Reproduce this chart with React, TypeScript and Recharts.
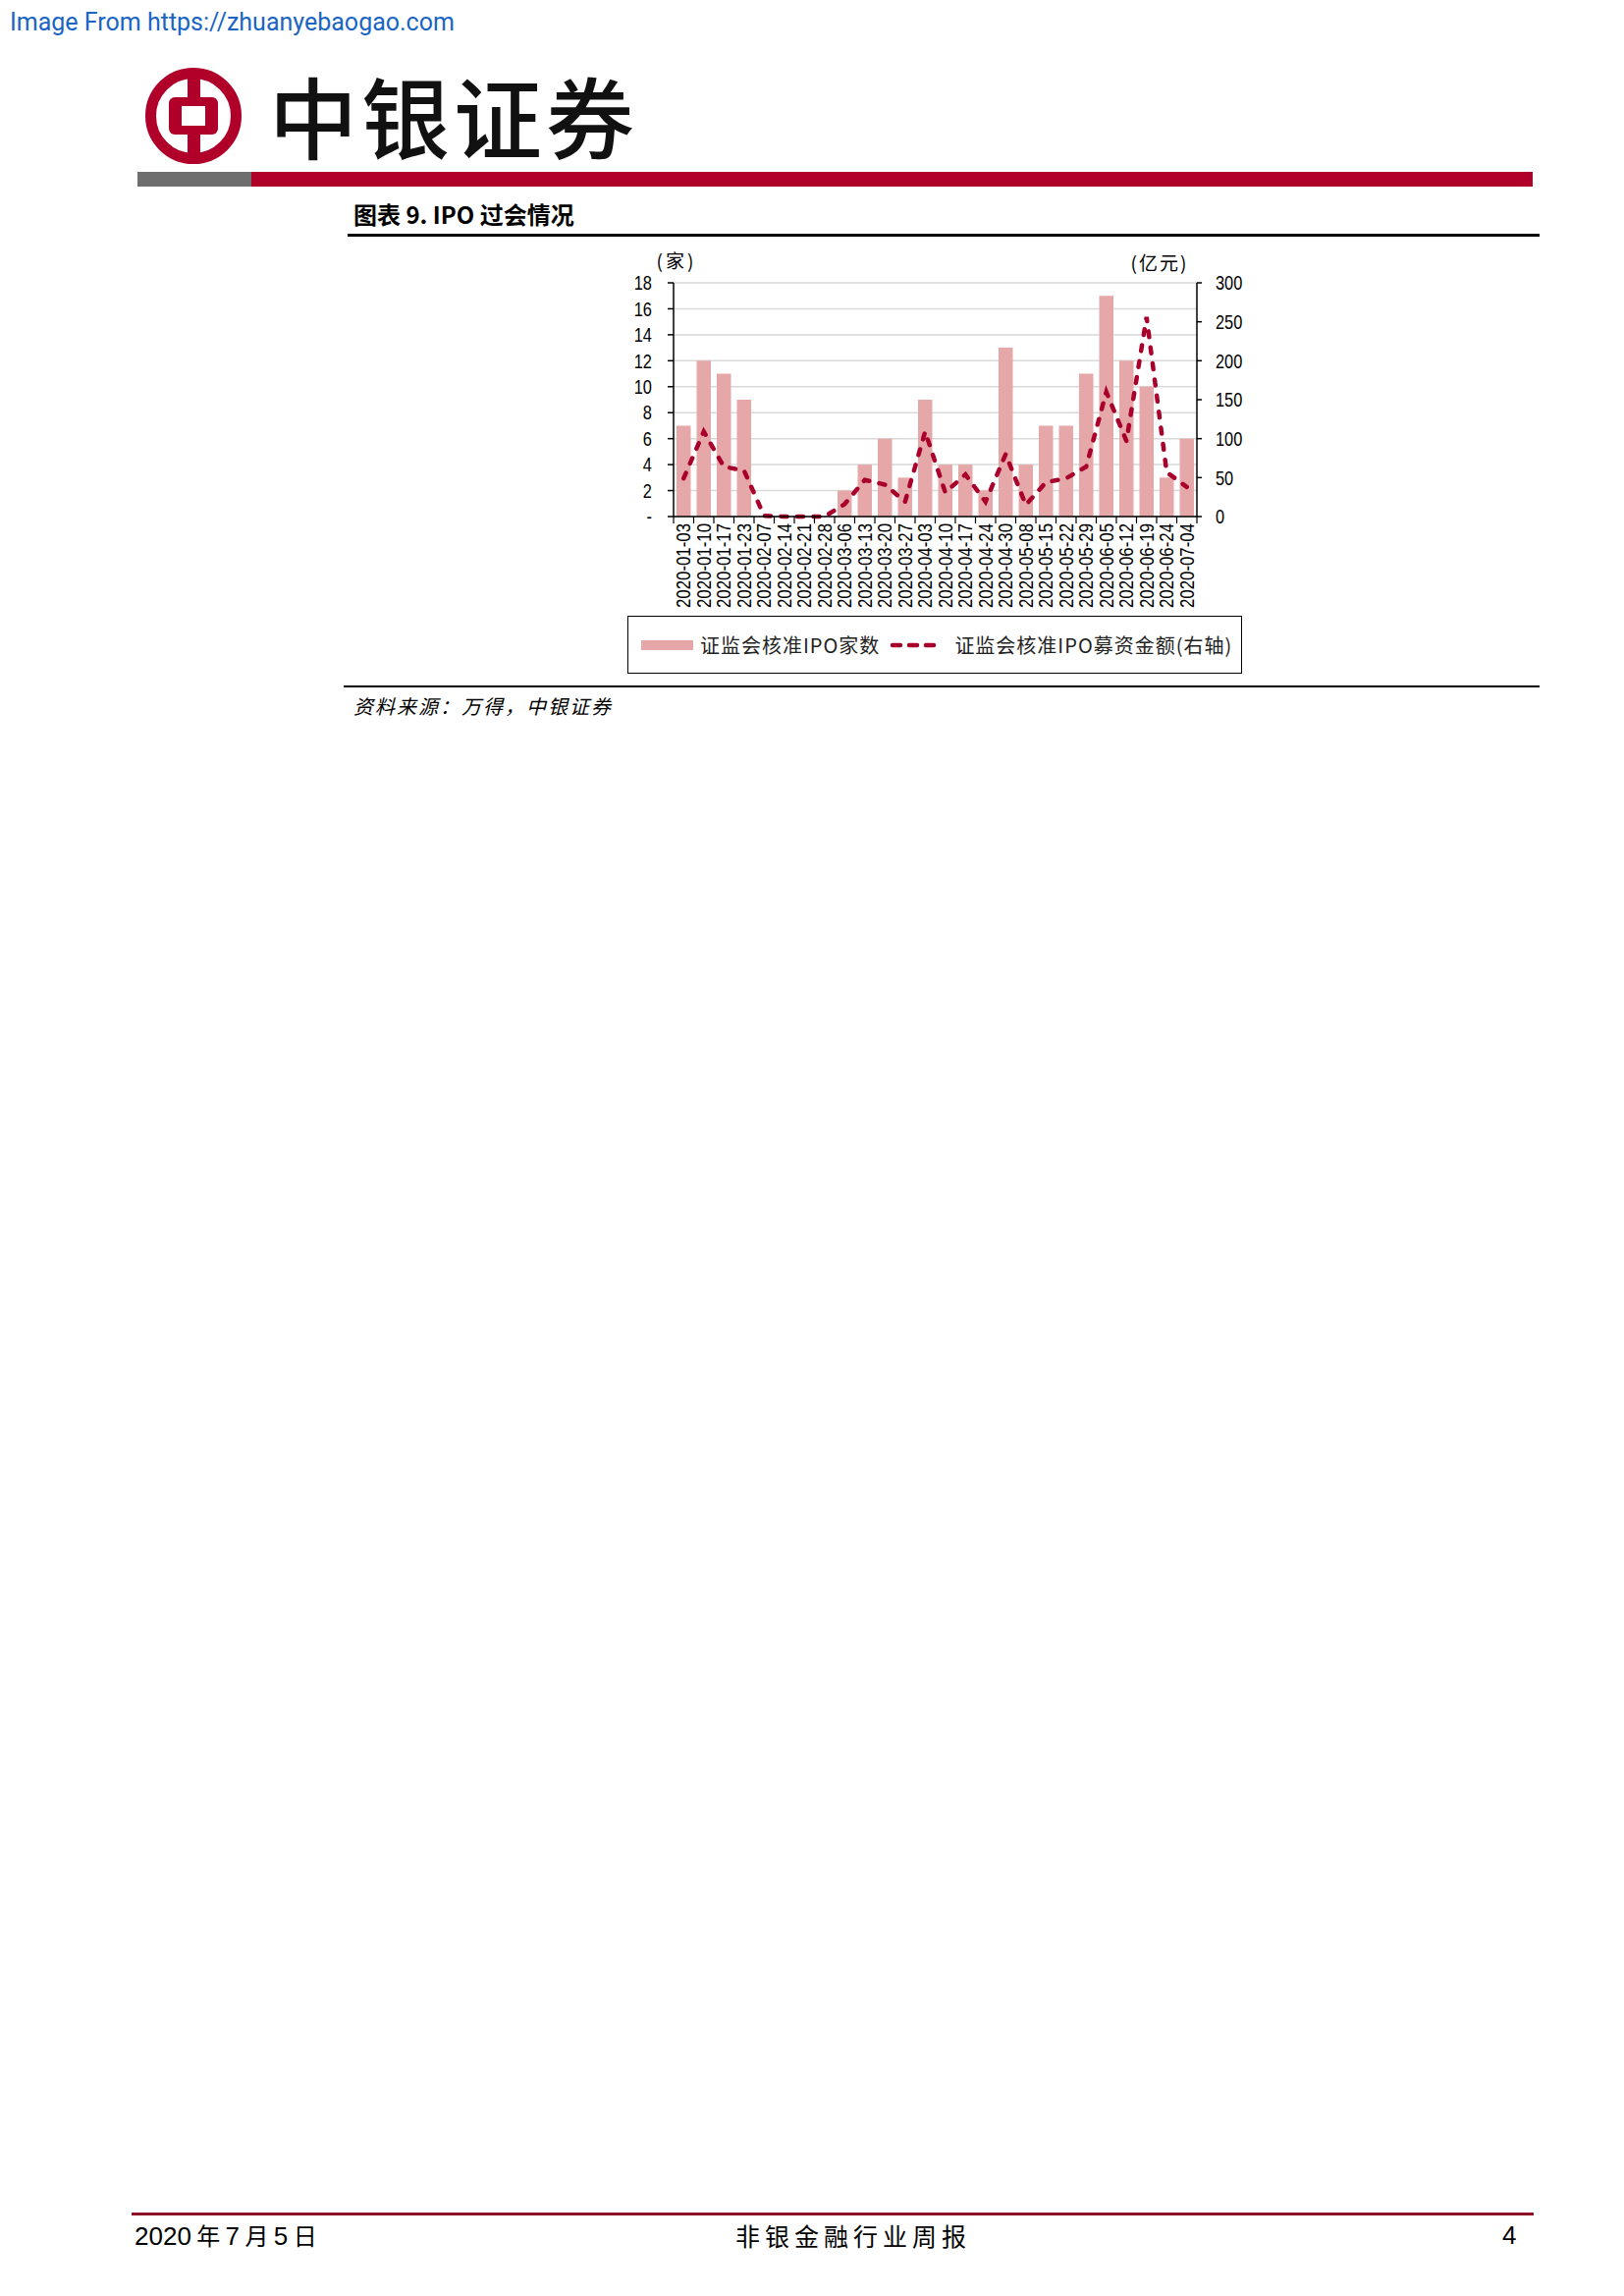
import {
  ComposedChart,
  Bar,
  Line,
  XAxis,
  YAxis,
  CartesianGrid,
  Legend,
} from 'recharts';

const categories = [
  '2020-01-03', '2020-01-10', '2020-01-17', '2020-01-23', '2020-02-07', '2020-02-14',
  '2020-02-21', '2020-02-28', '2020-03-06', '2020-03-13', '2020-03-20', '2020-03-27',
  '2020-04-03', '2020-04-10', '2020-04-17', '2020-04-24', '2020-04-30', '2020-05-08',
  '2020-05-15', '2020-05-22', '2020-05-29', '2020-06-05', '2020-06-12', '2020-06-19',
  '2020-06-24', '2020-07-04',
];
// 证监会核准IPO家数 (左轴，家)
const ipoCounts = [7, 12, 11, 9, 0, 0, 0, 0, 2, 4, 6, 3, 9, 4, 4, 2, 13, 4, 7, 7, 11, 17, 12, 10, 3, 6];
// 证监会核准IPO募资金额 (右轴，亿元)
const ipoAmounts = [49, 109, 64, 59, 1, 0, 0, 0, 16, 47, 41, 19, 109, 31, 54, 19, 80, 15, 44, 49, 64, 160, 97, 256, 57, 38];

const leftTicks = [0, 2, 4, 6, 8, 10, 12, 14, 16, 18];
const rightTicks = [0, 50, 100, 150, 200, 250, 300];

const countName = '证监会核准IPO家数';
const amountName = '证监会核准IPO募资金额(右轴)';

const SANS = '"Liberation Sans", Arial, sans-serif';
const CJK = '"Noto Sans CJK SC", "Noto Sans CJK TC", sans-serif';

const BAR_COLOR = '#e6a7a8';
const LINE_COLOR = '#a8002b';
const BRAND_RED = '#b0002a';

const chartData = categories.map((date, i) => ({
  date,
  count: ipoCounts[i],
  amount: ipoAmounts[i],
}));

const CHART_W = 700;
const PLOT_W = CHART_W - 86 - 81;
const HALF_BAND = PLOT_W / categories.length / 2;

// narrow look: squeeze the glyphs horizontally around the anchor
const narrow = (x: number) => `translate(${x} 0) scale(0.82 1) translate(${-x} 0)`;

const DateTick = ({ x, y, payload, index }: any) => (
  <g>
    <line x1={x + HALF_BAND} x2={x + HALF_BAND} y1={y - 7} y2={y} stroke="#000" strokeWidth={1.2} />
    {index === 0 && (
      <line x1={x - HALF_BAND} x2={x - HALF_BAND} y1={y - 7} y2={y} stroke="#000" strokeWidth={1.2} />
    )}
    <text
      x={x}
      y={y}
      transform={`rotate(-90 ${x} ${y})`}
      textAnchor="end"
      dy="0.36em"
      fontSize={20}
      fontFamily={SANS}
      fill="#000"
      textLength={86}
      lengthAdjust="spacingAndGlyphs"
    >
      {payload.value}
    </text>
  </g>
);

const ValueTick = ({ x, y, payload, textAnchor, zeroDash }: any) => (
  <text
    x={x}
    y={y}
    dy="0.36em"
    textAnchor={textAnchor}
    transform={narrow(x)}
    fontSize={20}
    fontFamily={SANS}
    fill="#000"
  >
    {zeroDash && payload.value === 0 ? '-' : payload.value}
  </text>
);

const LegendBox = () => (
  <div
    style={{
      boxSizing: 'border-box',
      width: 626,
      height: 59,
      border: '1.5px solid #000',
      display: 'flex',
      alignItems: 'center',
      paddingLeft: 13,
      fontFamily: CJK,
      fontSize: 20,
      color: '#222',
      whiteSpace: 'nowrap',
    }}
  >
    <span style={{ display: 'inline-block', width: 53, height: 10, background: BAR_COLOR, marginRight: 7 }} />
    <span style={{ letterSpacing: 1 }}>{countName}</span>
    <svg width={56} height={12} style={{ marginLeft: 10, marginRight: 10 }}>
      <line x1={3} x2={54} y1={6} y2={6} stroke={LINE_COLOR} strokeWidth={4.5} strokeDasharray="8 9" strokeLinecap="round" />
    </svg>
    <span style={{ letterSpacing: 1 }}>{amountName}</span>
  </div>
);

const Logo = () => (
  <svg width={110} height={110} viewBox="0 0 110 110" style={{ position: 'absolute', left: 142, top: 63 }}>
    <circle cx={55} cy={55} r={43.5} fill="none" stroke={BRAND_RED} strokeWidth={11} />
    <rect x={49} y={10} width={13} height={90} fill={BRAND_RED} />
    <rect x={30} y={36} width={50} height={38} rx={6} fill={BRAND_RED} />
    <rect x={43} y={45} width={24} height={20} fill="#fff" />
  </svg>
);

export default function App() {
  return (
    <div style={{ position: 'absolute', left: 0, top: 0, width: 1654, height: 2338, background: '#fff', fontFamily: CJK }}>
      <div style={{ position: 'absolute', left: 10, top: 8, fontFamily: 'Roboto, "Noto Sans", sans-serif', fontSize: 25, color: '#1a64c4' }}>
        Image From https://zhuanyebaogao.com
      </div>

      <Logo />
      <div style={{ position: 'absolute', left: 274, top: 56, fontSize: 90, fontWeight: 500, color: '#111', letterSpacing: 4, lineHeight: '120px' }}>
        中银证券
      </div>
      <div style={{ position: 'absolute', left: 140, top: 175, width: 116, height: 15, background: '#6e6e6e' }} />
      <div style={{ position: 'absolute', left: 256, top: 175, width: 1305, height: 15, background: BRAND_RED }} />

      <div style={{ position: 'absolute', left: 360, top: 203, fontSize: 24, fontWeight: 700, color: '#000', lineHeight: '30px' }}>
        图表 9. IPO 过会情况
      </div>
      <div style={{ position: 'absolute', left: 354, top: 238, width: 1214, height: 2.5, background: '#000' }} />

      <div style={{ position: 'absolute', left: 600, top: 250 }}>
        <ComposedChart
          width={CHART_W}
          height={440}
          data={chartData}
          margin={{ top: 38, right: 0, bottom: 64, left: 0 }}
        >
          <CartesianGrid vertical={false} stroke="#d9d9d9" strokeWidth={1.5} yAxisId="left" />
          <XAxis
            dataKey="date"
            height={100}
            interval={0}
            tickSize={0}
            tickMargin={7}
            tick={<DateTick />}
            axisLine={{ stroke: '#000', strokeWidth: 1.5 }}
          />
          <YAxis
            yAxisId="left"
            width={86}
            domain={[0, 18]}
            ticks={leftTicks}
            interval={0}
            tickSize={6}
            tickMargin={16}
            tick={<ValueTick zeroDash />}
            axisLine={{ stroke: '#000', strokeWidth: 1.5 }}
            tickLine={{ stroke: '#000', strokeWidth: 1.5 }}
            label={({ viewBox }: any) => (
              <text
                x={viewBox.x + viewBox.width + 3}
                y={viewBox.y - 15}
                textAnchor="middle"
                fontSize={19}
                fontFamily={CJK}
                fill="#000"
                letterSpacing={3}
              >
                (家)
              </text>
            )}
          />
          <YAxis
            yAxisId="right"
            orientation="right"
            width={81}
            domain={[0, 300]}
            ticks={rightTicks}
            interval={0}
            tickSize={5}
            tickMargin={14}
            tick={<ValueTick />}
            axisLine={{ stroke: '#000', strokeWidth: 1.5 }}
            tickLine={{ stroke: '#000', strokeWidth: 1.5 }}
            label={({ viewBox }: any) => (
              <text
                x={viewBox.x - 38}
                y={viewBox.y - 13}
                textAnchor="middle"
                fontSize={19}
                fontFamily={CJK}
                fill="#000"
                letterSpacing={2}
              >
                (亿元)
              </text>
            )}
          />
          <Legend
            verticalAlign="middle"
            align="center"
            content={() => <LegendBox />}
            wrapperStyle={{ position: 'absolute', left: 39, top: 377, width: 626, height: 59 }}
          />
          <Bar yAxisId="left" dataKey="count" name={countName} fill={BAR_COLOR} barSize={14.5} isAnimationActive={false} />
          <Line
            yAxisId="right"
            type="linear"
            dataKey="amount"
            name={amountName}
            stroke={LINE_COLOR}
            strokeWidth={4.5}
            strokeDasharray="6 10.5"
            strokeLinecap="round"
            dot={false}
            activeDot={false}
            isAnimationActive={false}
          />
        </ComposedChart>
      </div>

      <div style={{ position: 'absolute', left: 350, top: 698, width: 1218, height: 1.5, background: '#000' }} />
      <div style={{ position: 'absolute', left: 360, top: 704, fontSize: 20, fontStyle: 'italic', letterSpacing: 2, color: '#000', lineHeight: '30px' }}>
        资料来源：万得，中银证券
      </div>

      <div style={{ position: 'absolute', left: 134, top: 2253, width: 1428, height: 3, background: '#8c1228' }} />
      <div style={{ position: 'absolute', left: 137, top: 2260, fontSize: 24, color: '#000', lineHeight: '32px', whiteSpace: 'nowrap' }}>
        <span style={{ fontFamily: SANS, fontSize: 26 }}>2020</span> 年 <span style={{ fontFamily: SANS, fontSize: 26 }}>7</span> 月{' '}
        <span style={{ fontFamily: SANS, fontSize: 26 }}>5</span> 日
      </div>
      <div style={{ position: 'absolute', left: 749, top: 2260, fontSize: 25, letterSpacing: 5, color: '#000', lineHeight: '32px' }}>
        非银金融行业周报
      </div>
      <div style={{ position: 'absolute', left: 1530, top: 2260, fontSize: 26, fontFamily: SANS, color: '#000', lineHeight: '32px' }}>
        4
      </div>
    </div>
  );
}
